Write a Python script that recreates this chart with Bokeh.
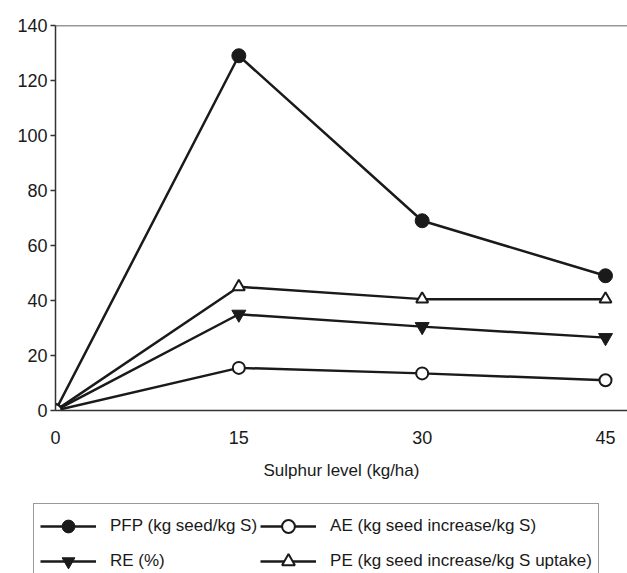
from bokeh.plotting import figure
from bokeh.models import Range1d, FixedTicker, Span, Legend, LegendItem
from bokeh.layouts import column
from bokeh.embed import file_html
from bokeh.resources import INLINE

# Data
sulphur = [0, 15, 30, 45]
pfp = [0, 129, 69, 49]
ae = [0, 15.5, 13.5, 11]
re_ = [0, 35, 30.5, 26.5]
pe = [0, 45, 40.5, 40.5]
x_ticks = [0, 15, 30, 45]
y_ticks = [0, 20, 40, 60, 80, 100, 120, 140]
xlabel = "Sulphur level (kg/ha)"
names = ["PFP (kg seed/kg S)", "AE (kg seed increase/kg S)", "RE (%)",
         "PE (kg seed increase/kg S uptake)"]

FONT = "Liberation Sans"
INK = "#1a1a1a"
LW = 2.5


def draw_series(fig):
    l1 = fig.line(sulphur, pfp, line_color=INK, line_width=LW)
    l3 = fig.line(sulphur, re_, line_color=INK, line_width=LW)
    l4 = fig.line(sulphur, pe, line_color=INK, line_width=LW)
    l2 = fig.line(sulphur, ae, line_color=INK, line_width=LW)
    m1 = fig.scatter(sulphur, pfp, marker="circle", size=14, fill_color=INK,
                     line_color=INK)
    m3 = fig.scatter(sulphur, re_, marker="inverted_triangle", size=14,
                     fill_color=INK, line_color=INK)
    m4 = fig.scatter(sulphur, pe, marker="triangle", size=12,
                     fill_color="white", line_color=INK, line_width=2)
    m2 = fig.scatter(sulphur, ae, marker="circle", size=12,
                     fill_color="white", line_color=INK, line_width=2)
    return [(l1, m1), (l2, m2), (l3, m3), (l4, m4)]


p = figure(width=627, height=490, output_backend="svg", toolbar_location=None,
           x_range=Range1d(0, 46.8), y_range=Range1d(0, 140),
           min_border_left=55, min_border_right=0, min_border_top=25,
           min_border_bottom=80)
p.frame_align = False
p.outline_line_color = None
p.grid.visible = False
p.background_fill_color = "white"
p.border_fill_color = "white"

xa = p.xaxis[0]
xa.ticker = FixedTicker(ticks=x_ticks)
xa.major_tick_out = 0
xa.major_tick_in = 0
xa.minor_tick_out = 0
xa.minor_tick_in = 0
xa.major_label_standoff = 20
xa.axis_label = xlabel
xa.axis_label_standoff = 14
xa.axis_label_text_font = FONT
xa.axis_label_text_font_style = "normal"
xa.axis_label_text_font_size = "17px"
xa.axis_label_text_color = INK

ya = p.yaxis[0]
ya.ticker = FixedTicker(ticks=y_ticks)
ya.major_tick_out = 5
ya.major_tick_in = 0
ya.minor_tick_out = 0
ya.minor_tick_in = 0
ya.major_label_standoff = 3

for ax in (xa, ya):
    ax.axis_line_color = "#333333"
    ax.axis_line_width = 1.5
    ax.major_tick_line_color = "#333333"
    ax.major_tick_line_width = 1.5
    ax.major_label_text_font = FONT
    ax.major_label_text_font_size = "18px"
    ax.major_label_text_color = INK

p.add_layout(Span(location=140, dimension="width", line_color="#333333",
                  line_width=1.5))
draw_series(p)

# legend figure (series drawn off-view, only the legend shows)
q = figure(width=627, height=83, output_backend="svg", toolbar_location=None,
           x_range=Range1d(1000, 1001), y_range=Range1d(1000, 1001),
           x_axis_location=None, y_axis_location=None,
           min_border_left=0, min_border_right=0, min_border_top=0,
           min_border_bottom=0)
q.frame_align = False
q.outline_line_color = None
q.grid.visible = False
q.background_fill_color = "white"
q.border_fill_color = "white"
pairs = draw_series(q)

legend = Legend(items=[LegendItem(label=n, renderers=list(r))
                       for n, r in zip(names, pairs)],
                orientation="horizontal", ncols=2, location=(33, -11))
legend.label_text_font = FONT
legend.label_text_font_size = "17px"
legend.label_text_color = INK
legend.glyph_width = 56
legend.glyph_height = 32
legend.label_height = 20
legend.label_standoff = 14
legend.spacing = 3
legend.padding = 6
legend.margin = 0
legend.border_line_color = "#333333"
legend.border_line_width = 1.2
legend.background_fill_color = "white"
legend.background_fill_alpha = 1
q.add_layout(legend, "center")

layout = column(p, q, spacing=0)
open("out.html", "w").write(file_html(layout, INLINE))
